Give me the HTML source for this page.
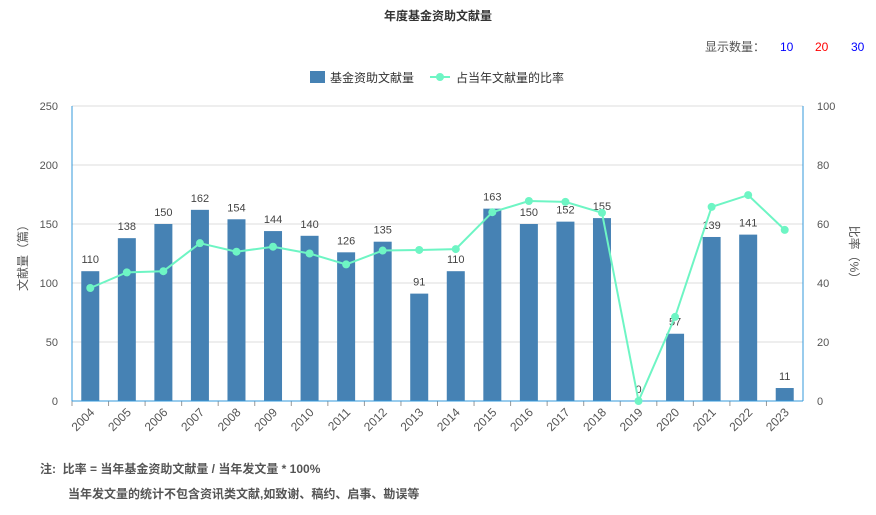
<!DOCTYPE html>
<html><head><meta charset="utf-8"><style>
body{margin:0;background:#fff;width:876px;height:510px;overflow:hidden;font-family:"Liberation Sans","Noto Sans CJK SC",sans-serif}
svg text{font-family:"Liberation Sans","Noto Sans CJK SC",sans-serif}
</style></head><body>
<svg width="876" height="510">
<text x="438" y="20" text-anchor="middle" font-size="12" font-weight="bold" fill="#333">年度基金资助文献量</text>
<text x="705" y="51" font-size="12" fill="#555">显示数量：</text>
<text x="780" y="51" font-size="12" fill="#0000ff">10</text>
<text x="815" y="51" font-size="12" fill="#ff0000">20</text>
<text x="851" y="51" font-size="12" fill="#0000ff">30</text>
<g>
<rect x="310" y="71" width="15" height="12" fill="#4682b4"/>
<text x="330" y="82" font-size="12" fill="#333">基金资助文献量</text>
<line x1="430" y1="77" x2="450" y2="77" stroke="#6ef5c4" stroke-width="2"/>
<circle cx="440" cy="77" r="4" fill="#6ef5c4"/>
<text x="456" y="82" font-size="12" fill="#333">占当年文献量的比率</text>
</g>
<g id="plot"></g>
<text transform="translate(27,255) rotate(-90)" text-anchor="middle" font-size="12" fill="#555">文献量（篇）</text>
<text transform="translate(850,255) rotate(90)" text-anchor="middle" font-size="12" fill="#555">比率（%）</text>
<text x="40" y="473" font-size="12" font-weight="bold" fill="#555">注:&#160;&#160;比率 = 当年基金资助文献量 / 当年发文量 * 100%</text>
<text x="68" y="498" font-size="12" font-weight="bold" fill="#555">当年发文量的统计不包含资讯类文献,如致谢、稿约、启事、勘误等</text>
</svg>
<script>
const years=["2004","2005","2006","2007","2008","2009","2010","2011","2012","2013","2014","2015","2016","2017","2018","2019","2020","2021","2022","2023"];
const counts=[110,138,150,162,154,144,140,126,135,91,110,163,150,152,155,0,57,139,141,11];
const ratios=[38.3,43.6,44,53.5,50.6,52.3,50,46.3,51,51.2,51.5,64,67.8,67.5,63.8,0,28.5,65.8,69.8,58];
const leftTicks=[0,50,100,150,200,250];
const rightTicks=[0,20,40,60,80,100];
const NS="http://www.w3.org/2000/svg";
const g=document.getElementById('plot');
const X0=72,X1=803,Y0=401,Y1=106;
const band=(X1-X0)/years.length;
const yL=v=>Y0-(v/250)*(Y0-Y1);
const yR=v=>Y0-(v/100)*(Y0-Y1);
const xc=i=>X0+band*(i+0.5);
function mk(t,a){const e=document.createElementNS(NS,t);for(const k in a)e.setAttribute(k,a[k]);g.appendChild(e);return e;}
leftTicks.forEach((v,i)=>{
 const gl=mk('line',{x1:X0,x2:X1,y1:yL(v),y2:yL(v),stroke:'#ddd'});
 
 
 const t=mk('text',{x:X0-14,y:yL(v)+4,'text-anchor':'end','font-size':11,fill:'#555'});t.textContent=v;
 
 
});
rightTicks.forEach(v=>{
 const t=mk('text',{x:X1+14,y:yR(v)+4,'font-size':11,fill:'#555'});t.textContent=v;
 
 
});
counts.forEach((v,i)=>{
 const r=mk('rect',{x:xc(i)-9,y:yL(v),width:18,height:Y0-yL(v),fill:'#4682b4'});
 
 
 const t=mk('text',{x:xc(i),y:yL(v)-8,'text-anchor':'middle','font-size':11,fill:'#444'});t.textContent=v;
 
 
 const tk=mk('line',{x1:X0+band*i,x2:X0+band*i,y1:Y0,y2:Y0+5,stroke:'#999'});
 
 
 const lx=mk('text',{transform:`translate(${xc(i)+5},${Y0+12}) rotate(-45)`,'text-anchor':'end','font-size':12,fill:'#555'});lx.textContent=years[i];
 
 
});
const ax=mk('line',{x1:X0,x2:X1,y1:Y0,y2:Y0,stroke:'#3398db'});


const la=mk('line',{x1:X0,x2:X0,y1:Y1,y2:Y0,stroke:'#3398db'});


const ra=mk('line',{x1:X1,x2:X1,y1:Y1,y2:Y0,stroke:'#3398db'});


const pl=mk('polyline',{points:ratios.map((v,i)=>xc(i)+','+yR(v)).join(' '),fill:'none',stroke:'#6ef5c4','stroke-width':2});


ratios.forEach((v,i)=>{
 const c=mk('circle',{cx:xc(i),cy:yR(v),r:4,fill:'#6ef5c4'});
 
 
});
</script>
</body></html>
